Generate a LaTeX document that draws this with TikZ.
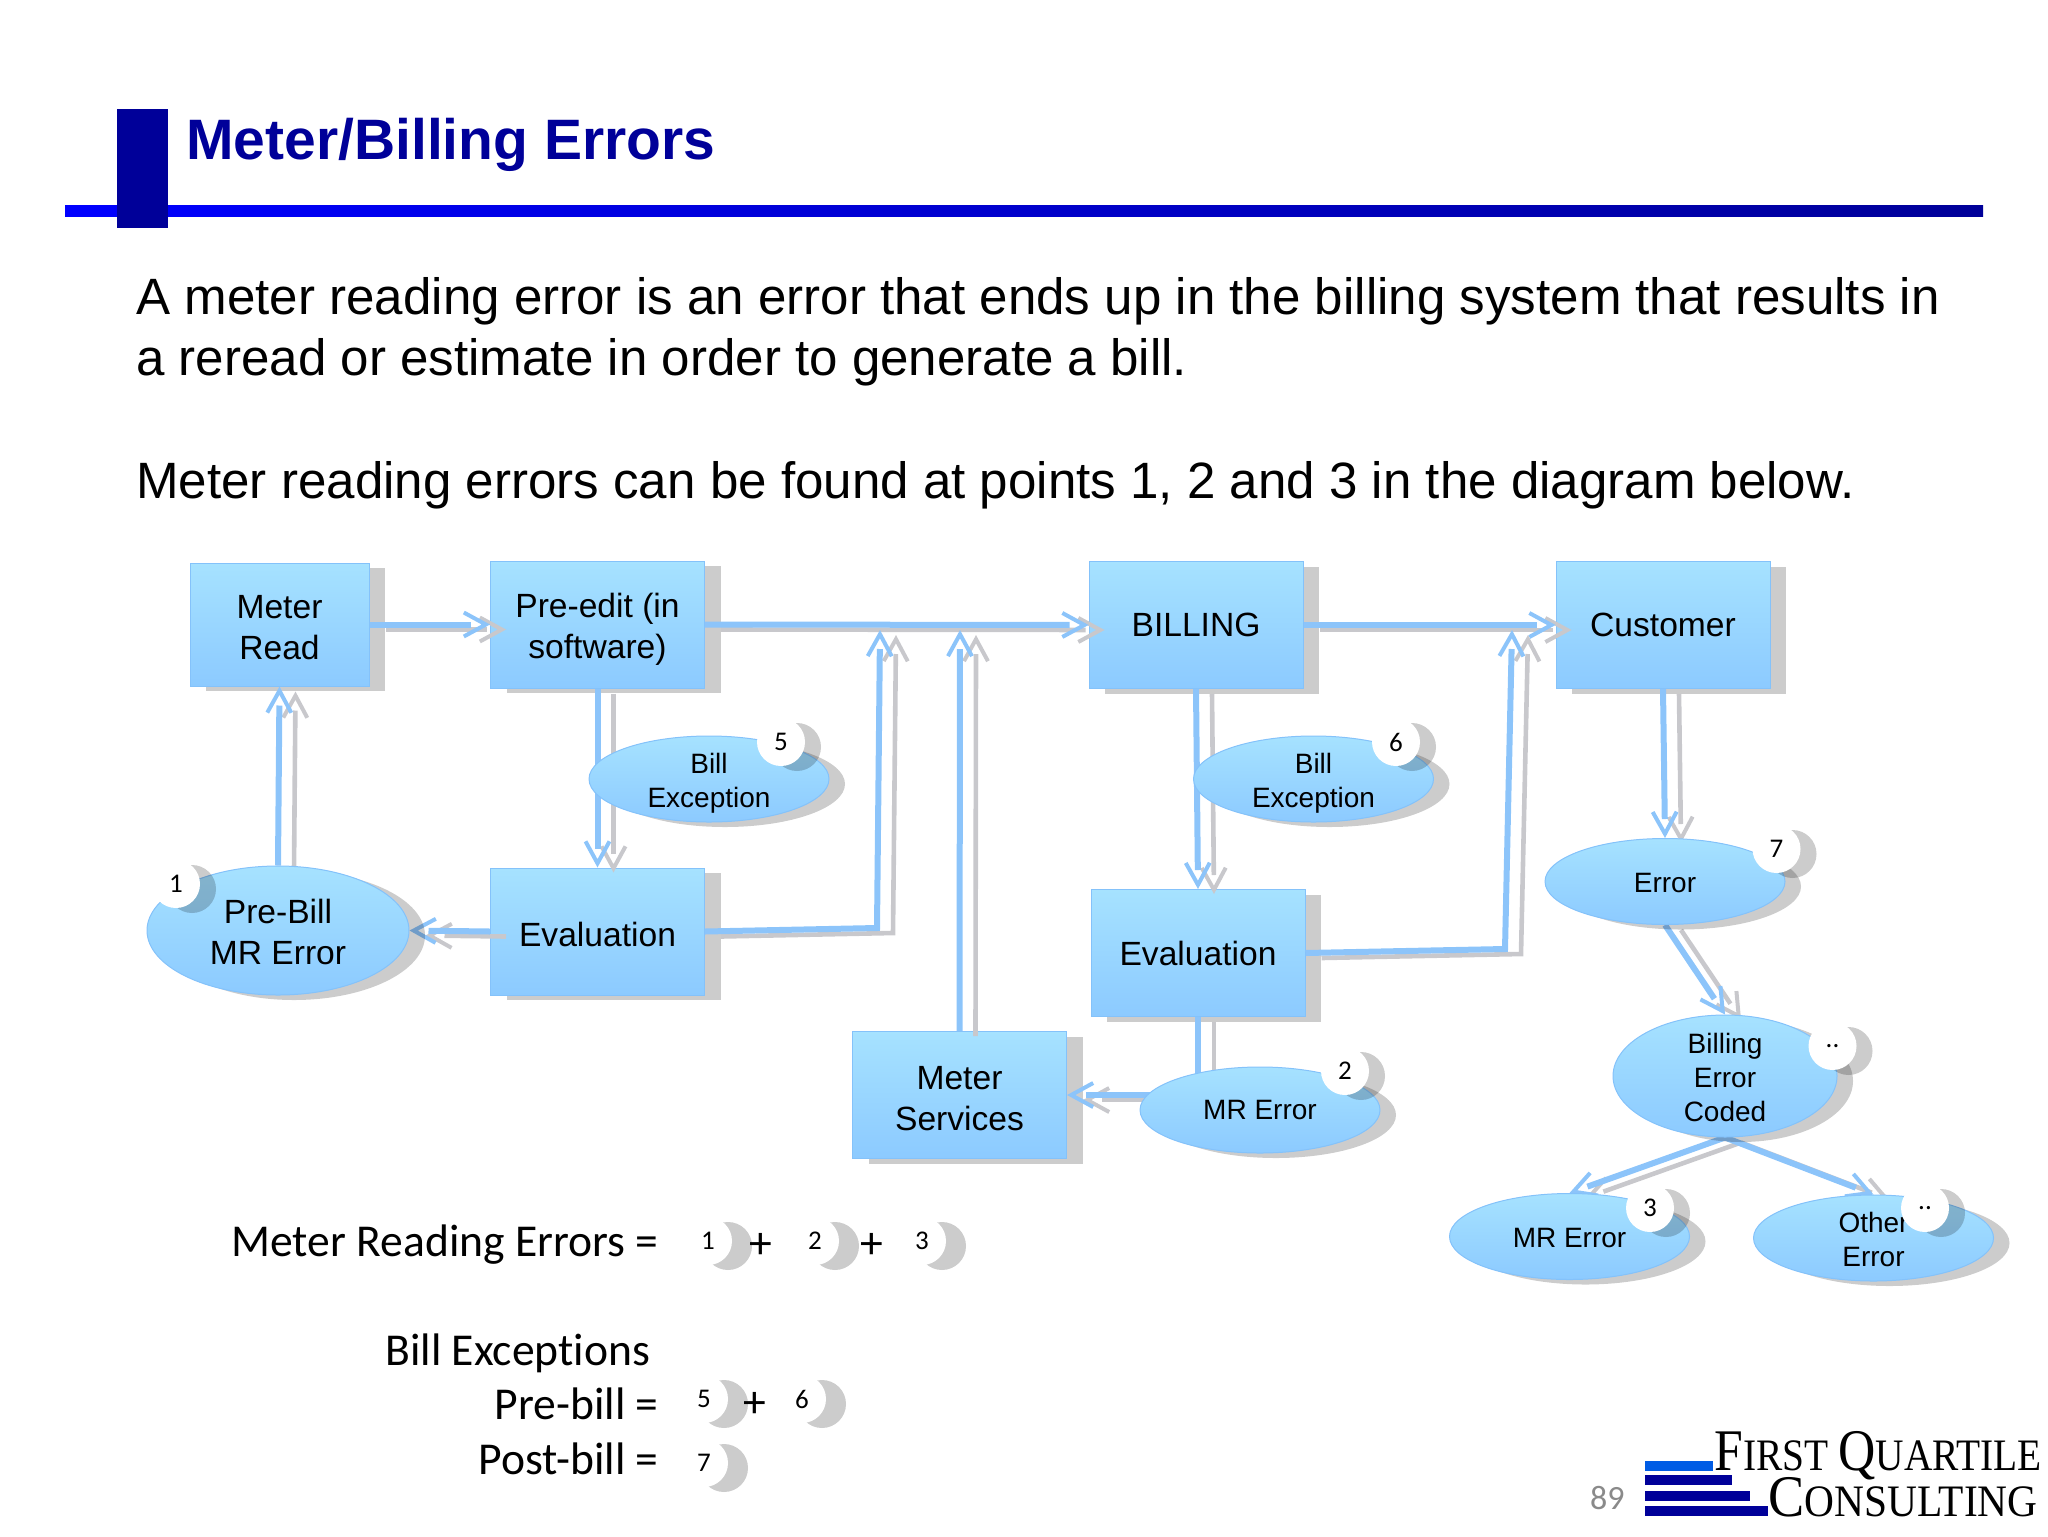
\documentclass[tikz,border=0pt]{standalone}
\usepackage{fontspec}
\setmainfont{Liberation Sans}
\newfontfamily\calibrifont[Ligatures=NoCommon]{Carlito}
\newfontfamily\logofont{Liberation Serif}
\usepackage{xcolor}
\usetikzlibrary{shapes.geometric,shadows,arrows.meta}
\pgfdeclarelayer{front}
\pgfsetlayers{main,front}
\definecolor{navyblock}{RGB}{0,0,153}
\definecolor{boxtop}{RGB}{166,226,255}
\definecolor{boxbottom}{RGB}{140,202,255}
\definecolor{boxedge}{RGB}{132,194,250}
\definecolor{linkblue}{RGB}{140,196,250}
\definecolor{linkgrey}{RGB}{200,200,204}
\newcommand{\firstline}[1]{\rule{0pt}{#1}}
\tikzset{
  castshadow/.style={general shadow={fill=black,fill opacity=0.2,shadow xshift=8pt,shadow yshift=-2.5pt}},
  procbox/.style={rectangle,draw=boxedge,line width=0.5pt,top color=boxtop,bottom color=boxbottom,castshadow,minimum width=107pt,minimum height=63.5pt,inner sep=0pt,align=center,font=\fontsize{16.8}{20.5}\selectfont},
  errblob/.style={ellipse,draw=boxedge,line width=0.5pt,top color=boxtop,bottom color=boxbottom,castshadow,minimum width=120pt,minimum height=43pt,inner sep=-5pt,align=center,font=\fontsize{14}{17}\selectfont},
  badge/.style={circle,fill=white,castshadow,minimum size=24pt,inner sep=0pt,font=\calibrifont\fontsize{13.5}{14}\selectfont},
  moon/.style={circle,fill=white,general shadow={fill=black,fill opacity=0.2,shadow xshift=10pt,shadow yshift=-2.5pt},minimum size=24pt,inner sep=0pt,font=\calibrifont\fontsize{13.5}{14}\selectfont},
  formula/.style={anchor=base east,inner sep=0pt,font=\calibrifont\fontsize{22.8}{26}\selectfont},
  bodyline/.style={anchor=base west,inner sep=0pt,font=\fontsize{25.55}{31}\selectfont},
  linktip/.style={postaction={draw=#1,shorten >=0pt,line width=2pt,dash pattern=on 0pt off 9000pt,-{Straight Barb[length=11pt,width=12pt,line width=2pt]}}},
  bluelink/.style={draw=linkblue,line width=3pt,shorten >=9.5pt,linktip=linkblue},
  greylink/.style={draw=linkgrey,line width=2.3pt,transform canvas={xshift=8pt,yshift=-2.5pt},shorten >=9.5pt,linktip=linkgrey},
  blueplain/.style={draw=linkblue,line width=3pt},
  greyplain/.style={draw=linkgrey,line width=2.3pt,transform canvas={xshift=8pt,yshift=-2.5pt}}
}
\begin{document}
\begin{tikzpicture}[x=0.5pt,y=0.5pt,yscale=-1,xscale=1]
\useasboundingbox (0,0) rectangle (2048,1536);

%Header bar and block
\shade [left color=blue,right color=navyblock] (65,205) rectangle (1983,216);
\fill [navyblock] (117,109) rectangle (168,228);

% Text Node
\node [anchor=base west,inner sep=0pt,text=navyblock,font=\bfseries\fontsize{28.5}{30}\selectfont] (slidetitle) at (186,159) {Meter/Billing Errors};
% Text Node
\node [bodyline] (introone) at (136,314) {A meter reading error is an error that ends up in the billing system that results in};
\node [bodyline] (introtwo) at (136,375.5) {a reread or estimate in order to generate a bill.};
% Text Node
\node [bodyline] (pointstext) at (136,498) {Meter reading errors can be found at points 1, 2 and 3 in the diagram below.};

%Shape: Rectangle
\node [procbox,minimum width=89.5pt,minimum height=61.5pt] (meterread) at (279.5,624.5) {\firstline{14.7pt}Meter\\Read};
\node [procbox] (preedit) at (597.5,624.5) {\firstline{17.4pt}Pre-edit (in\\software)};
\node [procbox] (billing) at (1196,625) {BILLING};
\node [procbox] (customer) at (1663,625) {Customer};
\node [procbox] (evalone) at (597.5,931.5) {\firstline{15pt}Evaluation};
\node [procbox] (evaltwo) at (1198,953) {\firstline{13pt}Evaluation};
\node [procbox] (metersvc) at (959.5,1095) {\firstline{15.4pt}Meter\\Services};

\begin{pgfonlayer}{front}
%Shape: Ellipse
\node [errblob,minimum width=131pt,minimum height=64.5pt,font=\fontsize{16.8}{20.5}\selectfont] (prebill) at (278,930.5) {\firstline{13.4pt}Pre-Bill\\MR Error};
\node [errblob] (exceptone) at (709,779) {\firstline{14pt}Bill\\Exception};
\node [errblob] (excepttwo) at (1313.5,779) {\firstline{14pt}Bill\\Exception};
\node [errblob] (mrerrortwo) at (1260,1110) {MR Error};
\node [errblob] (custerror) at (1665,881.5) {\firstline{11.5pt}Error};
\node [errblob,minimum width=112pt,minimum height=61pt] (billcoded) at (1725,1076) {\firstline{11.3pt}Billing\\Error\\Coded};
\node [errblob] (mrerrorthree) at (1569.5,1236.5) {\firstline{11pt}MR Error};
\node [errblob] (othererror) at (1873.5,1238) {\firstline{11.3pt}Other\\Error};

%Shape: Circle
\node [badge] (badgeone) at (176,884) {1};
\node [badge] (badgefive) at (781,742) {5};
\node [badge] (badgesix) at (1396,742) {6};
\node [badge] (badgetwo) at (1345,1071) {2};
\node [badge] (badgeseven) at (1776.5,849) {7};
\node [badge] (badgedots) at (1832.5,1046) {..};
\node [badge] (badgethree) at (1650,1208) {3};
\node [badge] (badgeother) at (1925,1208) {..};
\end{pgfonlayer}

%Free ends on the main line
\coordinate (mergeone) at (880,630);
\coordinate (mergetwo) at (960,630);
\coordinate (mergethree) at (1512,630);
\coordinate (cornerone) at (877,928);
\coordinate (cornertwo) at (1505,949);

%Straight Lines
\draw [greylink] (meterread.east) -- (preedit.west);
\draw [bluelink] (meterread.east) -- (preedit.west);
\draw [greylink] (preedit.east) -- (billing.west);
\draw [bluelink] (preedit.east) -- (billing.west);
\draw [greylink] (billing.east) -- (customer.west);
\draw [bluelink] (billing.east) -- (customer.west);
\draw [greylink] (preedit.south) -- (evalone.north);
\draw [bluelink] (preedit.south) -- (evalone.north);
\draw [greylink] (billing.south) -- (evaltwo.north);
\draw [bluelink] (billing.south) -- (evaltwo.north);
\draw [greylink] (customer.south) -- (custerror.north);
\draw [bluelink] (customer.south) -- (custerror.north);
\draw [greylink] (prebill.north) -- (meterread.south);
\draw [bluelink] (prebill.north) -- (meterread.south);
\draw [greylink] (custerror.south) -- (billcoded.north);
\draw [bluelink] (custerror.south) -- (billcoded.north);
\draw [greylink] (billcoded.south) -- (mrerrorthree.north);
\draw [bluelink] (billcoded.south) -- (mrerrorthree.north);
\draw [greylink] (billcoded.south) -- (othererror.north);
\draw [bluelink] (billcoded.south) -- (othererror.north);
\draw [greylink] (metersvc.north) -- (mergetwo);
\draw [bluelink] (metersvc.north) -- (mergetwo);
\draw [greylink] (evalone.east) -- (cornerone) -- (mergeone);
\draw [bluelink] (evalone.east) -- (cornerone) -- (mergeone);
\draw [greylink] (evaltwo.east) -- (cornertwo) -- (mergethree);
\draw [bluelink] (evaltwo.east) -- (cornertwo) -- (mergethree);
\draw [greyplain] (evaltwo.south) -- (evaltwo.south |- mrerrortwo.center);
\draw [blueplain] (evaltwo.south) -- (evaltwo.south |- mrerrortwo.center);
\draw [greylink] (mrerrortwo.center |- metersvc.east) -- (metersvc.east);
\draw [bluelink] (mrerrortwo.center |- metersvc.east) -- (metersvc.east);
\draw [greylink] (evalone.west) -- (prebill.east);
\draw [bluelink] (evalone.west) -- (prebill.east);

% Text Node
\node [formula] (readingerrors) at (659,1256) {Meter Reading Errors =};
\node [moon] (sumone) at (708,1241) {1};
\node [moon] (sumtwo) at (815,1241) {2};
\node [moon] (sumthree) at (922,1241) {3};
\node [formula,anchor=base] (plusone) at (761,1258) {+};
\node [formula,anchor=base] (plustwo) at (872,1258) {+};
% Text Node
\node [formula,anchor=base west] (billexceptions) at (385,1365) {Bill Exceptions};
\node [formula] (prebilllabel) at (659,1419) {Pre-bill =};
\node [moon] (sumfive) at (704,1399) {5};
\node [moon] (sumsix) at (802,1399) {6};
\node [formula,anchor=base] (plusthree) at (755,1417) {+};
\node [formula] (postbilllabel) at (659,1474) {Post-bill =};
\node [moon] (sumseven) at (704,1463) {7};

%Footer logo
\node [anchor=base east,inner sep=0pt,text=black!46,font=\calibrifont\fontsize{17}{18}\selectfont] (pagenumber) at (1625,1509) {89};
\fill [blue!60!cyan!90!black] (1645,1461) rectangle (1713,1471);
\fill [navyblock] (1645,1475) rectangle (1732,1485);
\fill [navyblock] (1645,1491) rectangle (1750,1501);
\fill [navyblock] (1645,1506) rectangle (1768,1516);
\node [anchor=base west,inner sep=0pt,font=\logofont] (logofirst) at (1714,1470) {\scalebox{.875}[1]{\fontsize{29.5}{30}\selectfont F\fontsize{22.5}{30}\selectfont IRST \fontsize{29.5}{30}\selectfont Q\fontsize{22.5}{30}\selectfont UARTILE}};
\node [anchor=base west,inner sep=0pt,font=\logofont] (logosecond) at (1768,1516) {\scalebox{.92}[1]{\fontsize{29.5}{30}\selectfont C\fontsize{22.5}{30}\selectfont ONSULTING}};
\end{tikzpicture}
\end{document}
